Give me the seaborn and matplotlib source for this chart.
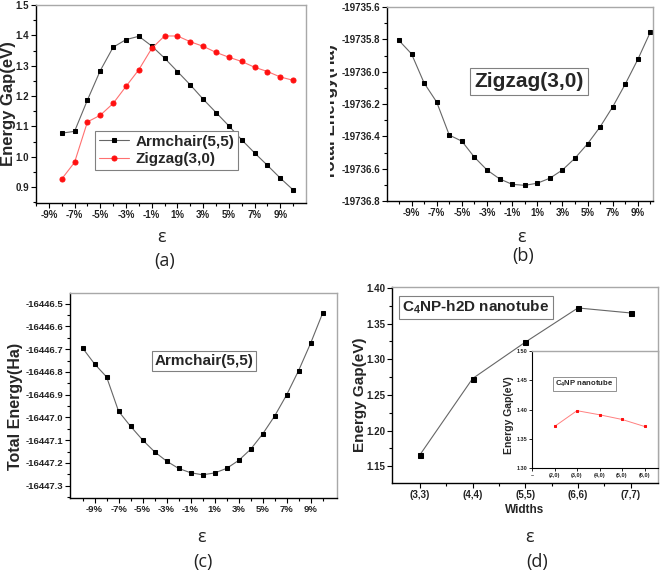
import numpy as np
import pandas as pd
import seaborn as sns
import matplotlib.pyplot as plt
from matplotlib.ticker import MultipleLocator, FixedLocator, FuncFormatter, FormatStrFormatter
from matplotlib.transforms import Bbox, TransformedBbox

sns.set_theme(style="ticks")
plt.rcParams['font.family'] = ['Liberation Sans', 'DejaVu Sans']
plt.rcParams['font.weight'] = 'bold'
plt.rcParams['mathtext.fontset'] = 'custom'
plt.rcParams['mathtext.rm'] = 'Liberation Sans:bold'
plt.rcParams['mathtext.bf'] = 'Liberation Sans:bold'

# (a) energy gap vs strain
strain_a = list(range(-8, 11))
gap_armchair = [1.078, 1.084, 1.187, 1.284, 1.361, 1.386, 1.397, 1.365, 1.325, 1.281,
                1.237, 1.190, 1.146, 1.102, 1.056, 1.013, 0.972, 0.930, 0.891]
gap_zigzag = [0.927, 0.982, 1.115, 1.137, 1.176, 1.232, 1.287, 1.357, 1.398, 1.398,
              1.379, 1.364, 1.344, 1.328, 1.314, 1.295, 1.281, 1.263, 1.252]

# (b), (c) total energy vs strain
strain_bc = list(range(-10, 11))
energy_zigzag = [-19735.807, -19735.890, -19736.070, -19736.188, -19736.392, -19736.430,
                 -19736.529, -19736.608, -19736.663, -19736.697, -19736.703, -19736.690,
                 -19736.659, -19736.608, -19736.535, -19736.446, -19736.341, -19736.217,
                 -19736.076, -19735.923, -19735.753]
energy_armchair = [-16446.695, -16446.765, -16446.822, -16446.973, -16447.039, -16447.099,
                   -16447.151, -16447.192, -16447.224, -16447.243, -16447.252, -16447.244,
                   -16447.224, -16447.189, -16447.140, -16447.073, -16446.994, -16446.901,
                   -16446.794, -16446.674, -16446.542]

# (d) energy gap vs width, and inset
widths = ['(3,3)', '(4,4)', '(5,5)', '(6,6)', '(7,7)']
gap_widths = [1.166, 1.273, 1.324, 1.372, 1.365]
inset_widths = ['(2,0)', '(3,0)', '(4,0)', '(5,0)', '(6,0)']
gap_inset = [1.371, 1.398, 1.391, 1.383, 1.371]

W, H = 661, 570
fig = plt.figure(figsize=(W / 100, H / 100), dpi=100)


def box(l, t, r, b):
    return fig.add_axes([l / W, 1 - b / H, (r - l) / W, (b - t) / H])


def style(ax, fs=7):
    for s in ['left', 'bottom']:
        ax.spines[s].set_color('black')
        ax.spines[s].set_linewidth(1.0)
    for s in ['top', 'right']:
        ax.spines[s].set_color('#a8a8a8')
        ax.spines[s].set_linewidth(1.0)
    ax.tick_params(which='major', direction='out', length=3.5, width=0.8,
                   labelsize=fs, pad=1.5, colors='black', labelcolor='#222222')
    ax.tick_params(which='minor', direction='out', length=2, width=0.8, colors='black')
    ax.set_xlabel('')
    ax.set_ylabel('')


def ftext(x, y, s, **kw):
    return fig.text(x / W, 1 - y / H, s, ha='center', va='center', **kw)


pct = FuncFormatter(lambda v, p: f'{int(round(v))}%')
boxed = dict(boxstyle='square,pad=0.2', fc='white', ec='#808080', lw=0.8)
line_kw = dict(color='#666666', lw=0.8, marker='s', markerfacecolor='black',
               markeredgecolor='black')

# ---- (a)
ax = box(36, 5, 306, 203)
sns.lineplot(x=strain_a, y=gap_armchair, ax=ax, markersize=3.4, label='Armchair(5,5)', **line_kw)
sns.lineplot(x=strain_a, y=gap_zigzag, ax=ax, color='#ff7070', lw=0.8, marker='o', markersize=3.6,
             markerfacecolor='#ff1010', markeredgecolor='#ff1010', label='Zigzag(3,0)')
ax.set_xlim(-10, 11)
ax.set_ylim(0.848, 1.5)
ax.xaxis.set_major_locator(FixedLocator(range(-9, 10, 2)))
ax.xaxis.set_minor_locator(FixedLocator(range(-10, 11, 2)))
ax.xaxis.set_major_formatter(pct)
ax.yaxis.set_major_locator(MultipleLocator(0.1))
ax.yaxis.set_minor_locator(MultipleLocator(0.05))
ax.yaxis.set_major_formatter(FormatStrFormatter('%.1f'))
style(ax)
ax.legend(loc='upper left', bbox_to_anchor=(0.2185, 0.3636), borderaxespad=0, fancybox=False,
          edgecolor='#808080', framealpha=1, prop={'size': 11, 'weight': 'bold'},
          handlelength=2.0, borderpad=0.25, labelspacing=0.2, handletextpad=0.4)
ax.get_legend().get_frame().set_linewidth(0.8)
ftext(8.5, 104, 'Energy Gap(eV)', rotation=90, fontsize=12)

# ---- (b)
ax = box(387, 7, 653, 201)
sns.lineplot(x=strain_bc, y=energy_zigzag, ax=ax, markersize=3.4, **line_kw)
ax.set_xlim(-10.95, 10.2)
ax.set_ylim(-19736.8, -19735.6)
ax.xaxis.set_major_locator(FixedLocator(range(-9, 10, 2)))
ax.xaxis.set_minor_locator(FixedLocator(range(-10, 11, 2)))
ax.xaxis.set_major_formatter(pct)
ax.yaxis.set_major_locator(MultipleLocator(0.2))
ax.yaxis.set_minor_locator(MultipleLocator(0.1))
ax.yaxis.set_major_formatter(FormatStrFormatter('%.1f'))
style(ax)
ftext(529, 81.5, 'Zigzag(3,0)', fontsize=15, bbox=boxed)
t = ftext(330, 112, 'Total Energy(Ha)', rotation=90, fontsize=12.3)
t.set_clip_box(TransformedBbox(Bbox([[330 / W, 0], [1, 1]]), fig.transFigure))
t.set_clip_on(True)

# ---- (c)
ax = box(70, 293, 337, 498)
sns.lineplot(x=strain_bc, y=energy_armchair, ax=ax, markersize=3.4, **line_kw)
ax.set_xlim(-11.05, 11.2)
ax.set_ylim(-16447.354, -16446.453)
ax.xaxis.set_major_locator(FixedLocator(range(-9, 10, 2)))
ax.xaxis.set_minor_locator(FixedLocator(range(-10, 11, 2)))
ax.xaxis.set_major_formatter(pct)
ax.yaxis.set_major_locator(MultipleLocator(0.1))
ax.yaxis.set_minor_locator(MultipleLocator(0.05))
ax.yaxis.set_major_formatter(FormatStrFormatter('%.1f'))
style(ax, fs=6.8)
ftext(204, 361, 'Armchair(5,5)', fontsize=11, bbox=boxed)
ftext(15.5, 406, 'Total Energy(Ha)', rotation=90, fontsize=11.5)

# ---- (d)
ax = box(392, 287, 658, 483)
pos = np.arange(len(widths))
sns.lineplot(x=pos, y=gap_widths, ax=ax, markersize=3.6, **line_kw)
ax.set_xlim(-0.53, 4.52)
ax.set_ylim(1.1265, 1.4014)
ax.set_xticks(pos, widths)
ax.xaxis.set_minor_locator(FixedLocator(pos[:-1] + 0.5))
ax.yaxis.set_major_locator(MultipleLocator(0.05))
ax.yaxis.set_minor_locator(MultipleLocator(0.025))
ax.yaxis.set_major_formatter(FormatStrFormatter('%.2f'))
style(ax)
ftext(476, 307.5, r'C$_{\mathbf{4}}$NP-h2D nanotube', fontsize=11, bbox=boxed)
ftext(360, 395, 'Energy Gap(eV)', rotation=90, fontsize=11)
ftext(525, 510, 'Widths', fontsize=8.5)

# inset
ax = box(532, 351, 658, 468)
ax.set_facecolor('white')
ipos = np.arange(len(inset_widths))
sns.lineplot(x=ipos, y=gap_inset, ax=ax, color='#ff8080', lw=0.7, marker='s', markersize=1.6,
             markerfacecolor='#ff1010', markeredgecolor='#ff1010')
ax.set_xlim(-1, 4.6)
ax.set_ylim(1.30, 1.50)
ax.set_xticks(np.arange(-1, len(inset_widths)), ['\u2013'] + inset_widths)
ax.yaxis.set_major_locator(MultipleLocator(0.05))
ax.yaxis.set_major_formatter(FormatStrFormatter('%.2f'))
style(ax, fs=4)
ax.tick_params(which='major', length=2, width=0.6, pad=1.5)
ax.spines['left'].set_linewidth(0.8)
ax.spines['bottom'].set_linewidth(0.8)
ftext(584.5, 384, r'C$_{\mathbf{4}}$NP nanotube', fontsize=5.6,
      bbox=dict(boxstyle='square,pad=0.25', fc='white', ec='#808080', lw=0.6))
ftext(509, 415.5, 'Energy Gap(eV)', rotation=90, fontsize=7.5)

# captions
cap = dict(fontsize=13, fontweight='normal', family=['Open Sans', 'DejaVu Sans'], color='#222222')
ftext(161, 237, '\u03b5', **cap)
ftext(165, 261, '(a)', **cap)
ftext(522, 237, '\u03b5', **cap)
ftext(523, 256, '(b)', **cap)
ftext(202, 537, '\u03b5', **cap)
ftext(203, 562, '(c)', **cap)
ftext(530, 537, '\u03b5', **cap)
ftext(537, 562, '(d)', **cap)

fig.savefig('out.png', dpi=100, facecolor='white')
